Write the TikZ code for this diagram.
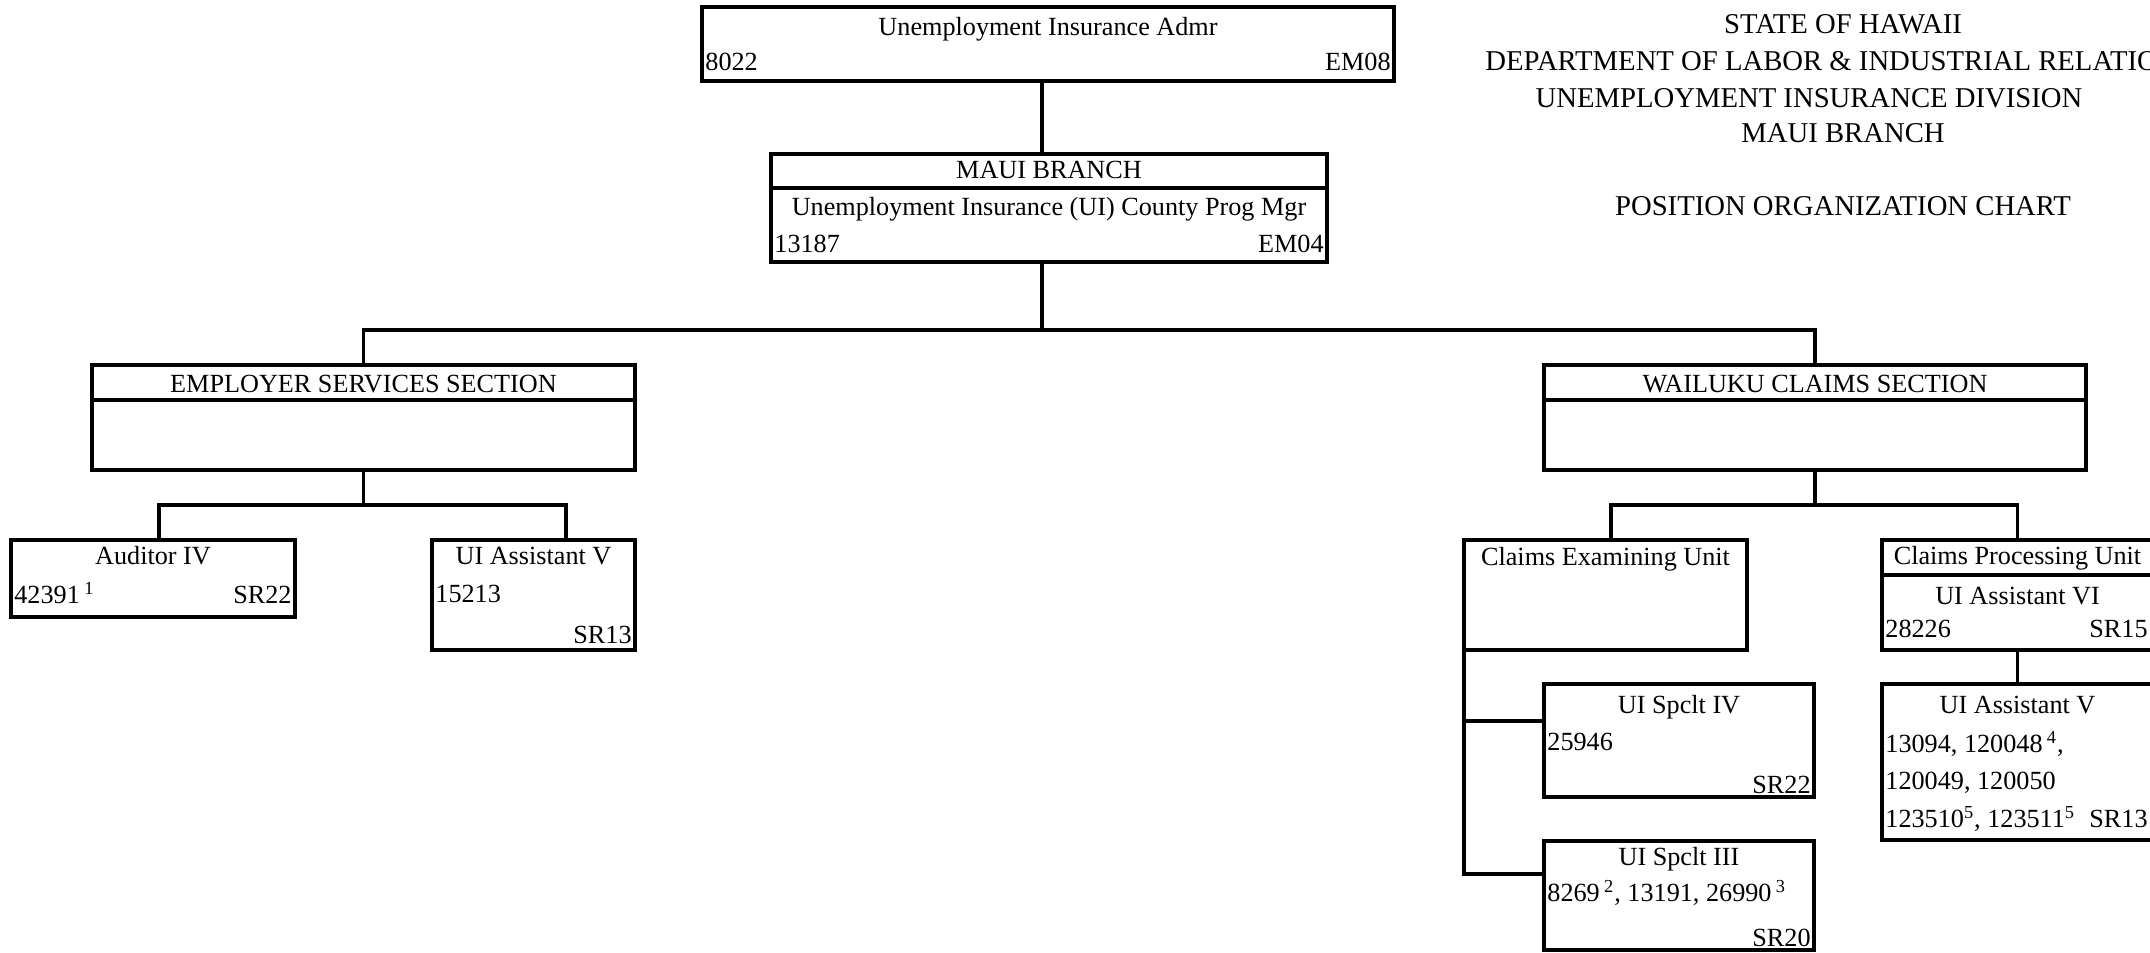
\documentclass[tikz,border=0pt]{standalone}
\usepackage{fontspec}
\setmainfont{Liberation Serif}
\usetikzlibrary{fit}
\newcommand\boxfont{\fontsize{13.1}{15}\selectfont}
\newcommand\headfont{\fontsize{14.35}{17}\selectfont}

\begin{document}
\begin{tikzpicture}[x=0.5pt, y=-0.5pt,
    box/.style={draw, line width=1.6pt, inner sep=0pt},
    wire/.style={line width=1.6pt, line cap=rect},
    rule/.style={line width=1.6pt},
    txt/.style={inner sep=0pt, font=\boxfont},
    head/.style={inner sep=0pt, font=\headfont}]
    \useasboundingbox (0,0) rectangle (2150,952);
    \clip (0,0) rectangle (2150,952);

    % Title block
    \node[head, anchor=base] (t1) at (1843,34) {STATE OF HAWAII};
    \node[head, anchor=base west] (t2) at (1485,71) {DEPARTMENT OF LABOR \& INDUSTRIAL RELATIONS};
    \node[head, anchor=base] (t3) at (1809,108) {UNEMPLOYMENT INSURANCE DIVISION};
    \node[head, anchor=base] (t4) at (1843,143) {MAUI BRANCH};
    \node[head, anchor=base] (t5) at (1843,216) {POSITION ORGANIZATION CHART};

    % Administrator
    \node[box, fit={(702,7) (1394,81)}] (admr) {};
    \node[txt, anchor=base] (admrT) at (1048,36) {Unemployment Insurance Admr};
    \node[txt, anchor=base west] (admrN) at (705,71) {8022};
    \node[txt, anchor=base east] (admrG) at (1391,71) {EM08};

    % Maui branch
    \node[box, fit={(771,154) (1327,262)}] (maui) {};
    \draw[rule] (maui.west |- 0,188) -- (maui.east |- 0,188);
    \node[txt, anchor=base] (mauiH) at (1049,179) {MAUI BRANCH};
    \node[txt, anchor=base] (mauiT) at (1049,216) {Unemployment Insurance (UI) County Prog Mgr};
    \node[txt, anchor=base west] (mauiN) at (774,252) {13187};
    \node[txt, anchor=base east] (mauiG) at (1324,252) {EM04};

    % Sections
    \node[box, fit={(92,365) (635,470)}] (es) {};
    \draw[rule] (es.west |- 0,400) -- (es.east |- 0,400);
    \node[txt, anchor=base] (esH) at (363.5,392) {EMPLOYER SERVICES SECTION};
    \node[box, fit={(1544,365) (2086,470)}] (wc) {};
    \draw[rule] (wc.west |- 0,400) -- (wc.east |- 0,400);
    \node[txt, anchor=base] (wcH) at (1815,392) {WAILUKU CLAIMS SECTION};

    % Employer services positions
    \node[box, fit={(11,540) (295,617)}] (aud) {};
    \node[txt, anchor=base] (audT) at (153,564) {Auditor IV};
    \node[txt, anchor=base west] (audN) at (14,603) {42391\,\textsuperscript{1}};
    \node[txt, anchor=base east] (audG) at (292,603) {SR22};
    \node[box, fit={(432,540) (635,650)}] (astL) {};
    \node[txt, anchor=base] (astLT) at (533.5,564) {UI Assistant V};
    \node[txt, anchor=base west] (astLN) at (435,602) {15213};
    \node[txt, anchor=base east] (astLG) at (632,643) {SR13};

    % Claims units
    \node[box, fit={(1464,540) (1747,650)}] (ceu) {};
    \node[txt, anchor=base] (ceuH) at (1605.5,565) {Claims Examining Unit};
    \node[box, fit={(1882,540) (2153,650)}] (cpu) {};
    \draw[rule] (cpu.west |- 0,575) -- (cpu.east |- 0,575);
    \node[txt, anchor=base] (cpuH) at (2017.5,564) {Claims Processing Unit};
    \node[txt, anchor=base] (cpuT) at (2017.5,604) {UI Assistant VI};
    \node[txt, anchor=base west] (cpuN) at (1885,637) {28226};
    \node[txt, anchor=base east] (cpuG) at (2148,637) {SR15};

    % Specialists
    \node[box, fit={(1544,684) (1814,797)}] (sp4) {};
    \node[txt, anchor=base] (sp4T) at (1679,713) {UI Spclt IV};
    \node[txt, anchor=base west] (sp4N) at (1547,750) {25946};
    \node[txt, anchor=base east] (sp4G) at (1811,793) {SR22};
    \node[box, fit={(1544,841) (1814,950)}] (sp3) {};
    \node[txt, anchor=base] (sp3T) at (1679,865) {UI Spclt III};
    \node[txt, anchor=base west] (sp3N) at (1547,901) {8269\,\textsuperscript{2}, 13191, 26990\,\textsuperscript{3}};
    \node[txt, anchor=base east] (sp3G) at (1811,946) {SR20};

    % Processing assistants
    \node[box, fit={(1882,684) (2153,840)}] (astR) {};
    \node[txt, anchor=base] (astRT) at (2017.5,713) {UI Assistant V};
    \node[txt, anchor=base west] (astRN1) at (1885,752) {13094, 120048\,\textsuperscript{4},};
    \node[txt, anchor=base west] (astRN2) at (1885,789) {120049, 120050};
    \node[txt, anchor=base west] (astRN3) at (1885,827) {123510\textsuperscript{5}, 123511\textsuperscript{5}};
    \node[txt, anchor=base east] (astRG) at (2148,827) {SR13};

    % Connectors
    \coordinate (trunk) at (1042,330);
    \coordinate (esL) at (159,505);
    \coordinate (esR) at (566,505);
    \coordinate (wcL) at (1611,505);
    \coordinate (wcR) at (2017.5,505);
    \coordinate (br4) at (1464,721);
    \coordinate (br3) at (1464,874);
    \draw[wire] (admr.south -| trunk) -- (maui.north -| trunk);
    \draw[wire] (maui.south -| trunk) -- (trunk);
    \draw[wire] (es.north) |- (trunk) -| (wc.north);
    \draw[wire] (es.south) -- (es.south |- esL);
    \draw[wire] (aud.north -| esL) -- (esL) -- (esR) -- (astL.north -| esR);
    \draw[wire] (wc.south) -- (wc.south |- wcL);
    \draw[wire] (ceu.north -| wcL) -- (wcL) -- (wcR) -- (cpu.north);
    \draw[wire] (cpu.south) -- (astR.north);
    \draw[wire] (br3 |- ceu.south) -- (br3) -- (br3 -| sp3.west);
    \draw[wire] (br4) -- (br4 -| sp4.west);
\end{tikzpicture}
\end{document}
